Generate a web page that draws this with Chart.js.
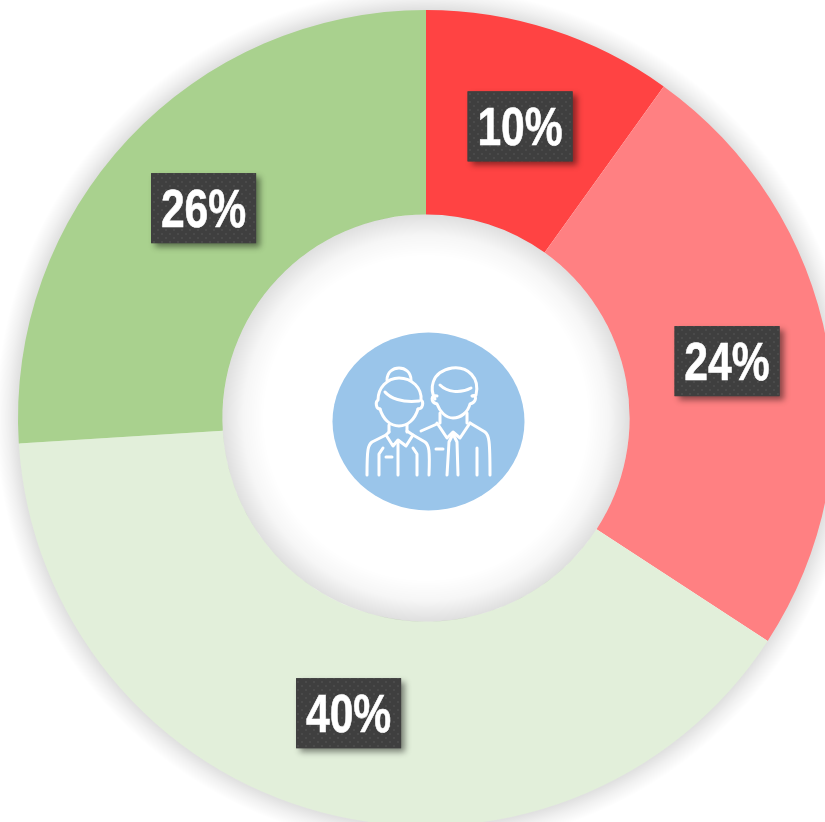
<!DOCTYPE html>
<html><head><meta charset="utf-8">
<style>html,body{margin:0;padding:0;background:#fff;overflow:hidden;width:825px;height:822px}
#w{position:absolute;left:0;top:-8px;width:852px;height:852px}</style>
<script src="https://cdn.jsdelivr.net/npm/chart.js@4"></script></head>
<body><div id="w"><canvas id="c" width="852" height="852"></canvas></div>
<script>
const categories=["A","B","C","D"];
const values=[9.9,24.3,39.8,26];
const colors=["#FF4343","#FF8082","#E2EFDA","#A9D18E"];
const labels=["10%","24%","40%","26%"];

function mkPattern(ctx){
  const p=document.createElement('canvas');p.width=p.height=8;
  const g=p.getContext('2d');g.fillStyle='#3F3F3F';g.fillRect(0,0,8,8);
  g.fillStyle='#4A4A4A';g.fillRect(1,1,2,2);g.fillRect(5,5,2,2);
  return ctx.createPattern(p,'repeat');
}
const ringShadow={id:'ringShadow',
 beforeDatasetsDraw(chart){
  const a=chart.getDatasetMeta(0).data[0];if(!a)return;
  const c=chart.ctx,x=a.x,y=a.y,R=a.outerRadius;
  c.save();
  const g=c.createRadialGradient(x,y,R-1,x,y,R+22);
  g.addColorStop(0,'rgba(0,0,0,.13)');g.addColorStop(.5,'rgba(0,0,0,.055)');g.addColorStop(1,'rgba(0,0,0,0)');
  c.fillStyle=g;c.beginPath();c.arc(x,y,R+22,0,Math.PI*2);c.moveTo(x+R-1,y);c.arc(x,y,R-1,0,Math.PI*2);c.fill('evenodd');c.restore();
 }};
const hole={id:'hole',
 afterDatasetsDraw(chart){
  const a=chart.getDatasetMeta(0).data[0];if(!a)return;
  const c=chart.ctx,x=a.x,y=a.y,r=a.innerRadius;
  c.save();
  const g=c.createRadialGradient(x,y,r-42,x,y,r);
  g.addColorStop(0,'rgba(0,0,0,0)');g.addColorStop(.5,'rgba(0,0,0,.035)');g.addColorStop(1,'rgba(0,0,0,.125)');
  c.fillStyle=g;c.beginPath();c.arc(x,y,r,0,Math.PI*2);c.moveTo(x+r-42,y);c.arc(x,y,r-42,0,Math.PI*2);c.fill('evenodd');
  c.fillStyle='#9AC5EA';c.beginPath();c.ellipse(x+2.5,y+3.5,96,89,0,0,Math.PI*2);c.fill();
  c.translate(x-426,y-418);
  c.strokeStyle='#fff';c.lineWidth=3;c.lineCap='round';c.lineJoin='round';
  const P=s=>{c.stroke(new Path2D(s));};
  // woman
  P('M387 380 C387 372 393 368 399 368 C405 368 411 372 411 380');
  P('M380 409 C376 409 375 402 378 400 C378 388 387 378 399 378 C412 378 422 388 421 400 C424 402 423 409 418 409');
  P('M380 409 C383 419 390 426 399 426 C408 426 415 419 418 409');
  P('M385 392 C390 398 402 403 419 401');
  P('M389 425 L389 432 M407 425 L407 432');
  P('M389 432 L386 435 L393 446 L398 440 L406 446 L413 435 L407 431');
  P('M386 435 L372 442 C368 445 367 449 367 475 M413 435 L425 442 C429 445 430 450 429 475');
  P('M379 475 L379 454 L383 448 M398 441 L398 475 M417 475 L417 454 L413 448');
  P('M386 457 L392 457');
  // man
  P('M435 399 C430 390 430 372 452 368 C468 366 480 378 476 395 L473 396');
  P('M440 385 C447 392 460 394 471 388');
  P('M437 396 C431 394 430 402 437 404 C440 412 446 418 453 418 C461 418 468 412 470 404 C477 402 477 394 472 396');
  P('M440 413 L440 423 M467 413 L467 423');
  P('M437 423 L447 438 L453 432 L460 438 L470 423');
  P('M421 431 L437 424 M470 423 L485 432 C489 435 490 440 490 475');
  P('M453 434 L449 442 L447 475 M453 434 L457 442 L458 475 M477 475 L477 448');
  P('M436 449 L443 449');
  c.restore();
 }};
const tags={id:'tags',
 afterDraw(chart){
  const c=chart.ctx,pat=mkPattern(c),W=105,H=70;
  chart.getDatasetMeta(0).data.forEach((a,i)=>{
   const pos=a.tooltipPosition(),cx=pos.x+.5,cy=pos.y-.5;
   c.save();
   c.shadowColor='rgba(0,0,0,.45)';c.shadowBlur=6;c.shadowOffsetX=4;c.shadowOffsetY=4;
   c.fillStyle='#3F3F3F';c.fillRect(cx-W/2,cy-H/2,W,H);
   c.shadowColor='transparent';c.shadowBlur=0;c.shadowOffsetX=0;c.shadowOffsetY=0;
   c.fillStyle=pat;c.fillRect(cx-W/2,cy-H/2,W,H);
   c.translate(cx,cy+4);c.scale(.79,1);
   c.fillStyle='#fff';c.strokeStyle='#fff';c.lineWidth=.6;c.textAlign='center';c.textBaseline='middle';
   c.font='bold 54px "Liberation Sans",sans-serif';
   c.fillText(labels[i],0,0);c.strokeText(labels[i],0,0);
   c.restore();
  });
 }};
new Chart(document.getElementById('c'),{
 type:'doughnut',
 data:{labels:categories,datasets:[{data:values,backgroundColor:colors,borderWidth:0,hoverOffset:0}]},
 options:{responsive:false,animation:false,cutout:'49.9%',
  layout:{padding:18},
  plugins:{legend:{display:false},tooltip:{enabled:false}}},
 plugins:[ringShadow,hole,tags]
});
</script></body></html>
